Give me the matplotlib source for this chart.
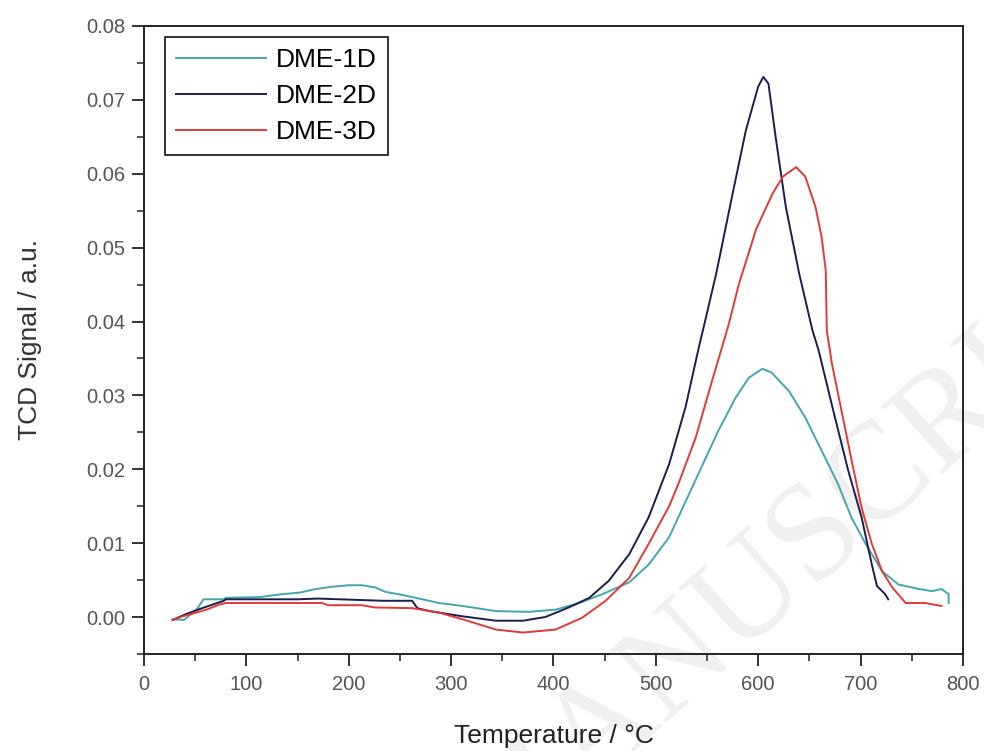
import numpy as np
import matplotlib
matplotlib.use("Agg")
import matplotlib.pyplot as plt
from matplotlib.ticker import MultipleLocator, FormatStrFormatter

plt.rcParams['font.family'] = ['Liberation Sans', 'DejaVu Sans']

# --- DATA ---
temp_1d = [28, 39, 52, 58, 78, 80, 113, 135, 152, 168, 184, 200, 213, 226, 236, 252,
           262, 272, 288, 311, 344, 376, 402, 425, 448, 474, 493, 513, 522, 542, 561,
           578, 591, 604, 613, 630, 646, 662, 678, 691, 705, 721, 737, 757, 770, 779,
           786, 786]
tcd_1d = [-0.0003, -0.0004, 0.0011, 0.0024, 0.0024, 0.0026, 0.0027, 0.0031, 0.0033,
          0.0038, 0.0041, 0.0043, 0.0043, 0.0040, 0.0034, 0.0030, 0.0027, 0.0024,
          0.0019, 0.0015, 0.0008, 0.0007, 0.0010, 0.0019, 0.0031, 0.0047, 0.0071,
          0.0108, 0.0135, 0.0195, 0.0252, 0.0297, 0.0324, 0.0336, 0.0331, 0.0306,
          0.0270, 0.0225, 0.0180, 0.0135, 0.0099, 0.0062, 0.0044, 0.0038, 0.0035,
          0.0038, 0.0031, 0.0019]

temp_2d = [28, 41, 61, 78, 80, 150, 170, 233, 262, 267, 279, 311, 344, 370, 392, 415,
           435, 454, 474, 493, 513, 529, 542, 546, 559, 575, 588, 600, 605, 610, 617,
           627, 640, 653, 659, 675, 688, 701, 711, 716, 724, 727]
tcd_2d = [-0.0004, 0.0004, 0.0014, 0.0022, 0.0024, 0.0024, 0.0025, 0.0022, 0.0022,
          0.0012, 0.0008, 0.0001, -0.0005, -0.0005, 0.0000, 0.0013, 0.0026, 0.0049,
          0.0085, 0.0135, 0.0207, 0.0284, 0.0365, 0.0388, 0.0465, 0.0573, 0.0659,
          0.0718, 0.0731, 0.0722, 0.0650, 0.0555, 0.0465, 0.0388, 0.0361, 0.0270,
          0.0198, 0.0135, 0.0071, 0.0042, 0.0031, 0.0024]

temp_3d = [28, 38, 61, 74, 80, 174, 180, 213, 225, 262, 288, 311, 344, 370, 402, 428,
           451, 474, 493, 513, 522, 539, 555, 571, 581, 598, 614, 624, 637, 646, 656,
           662, 666, 667, 672, 682, 692, 701, 711, 721, 731, 744, 763, 779]
tcd_3d = [-0.0004, 0.0001, 0.0010, 0.0017, 0.0019, 0.0019, 0.0016, 0.0016, 0.0013,
          0.0012, 0.0006, -0.0003, -0.0017, -0.0021, -0.0017, -0.0001, 0.0022, 0.0053,
          0.0099, 0.0150, 0.0180, 0.0243, 0.0320, 0.0395, 0.0450, 0.0525, 0.0573,
          0.0596, 0.0609, 0.0596, 0.0555, 0.0514, 0.0469, 0.0388, 0.0343, 0.0275,
          0.0207, 0.0148, 0.0099, 0.0062, 0.0040, 0.0019, 0.0019, 0.0015]

labels = ['DME-1D', 'DME-2D', 'DME-3D']
colors = ['#45a5ad', '#1c1d4f', '#e03a3a']

# --- PLOT ---
fig = plt.figure(figsize=(9.84, 7.51), dpi=100)
ax = fig.add_axes([0.1463, 0.1292, 0.8323, 0.8362])

# faint "accepted manuscript" watermark behind everything
fig.text(0.82, 0.27, 'MANUSCRIPT', family='Liberation Serif', fontsize=100,
         color='#f0f0f0', rotation=42, ha='center', va='center', zorder=-1)
ax.patch.set_alpha(0)

ax.plot(temp_1d, tcd_1d, color=colors[0], lw=1.4, label=labels[0])
ax.plot(temp_2d, tcd_2d, color=colors[1], lw=1.4, label=labels[1])
ax.plot(temp_3d, tcd_3d, color=colors[2], lw=1.4, label=labels[2])

ax.set_xlim(0, 800)
ax.set_ylim(-0.005, 0.08)
ax.xaxis.set_major_locator(MultipleLocator(100))
ax.xaxis.set_minor_locator(MultipleLocator(50))
ax.yaxis.set_major_locator(MultipleLocator(0.01))
ax.yaxis.set_minor_locator(MultipleLocator(0.005))
ax.yaxis.set_major_formatter(FormatStrFormatter('%.2f'))

ax.tick_params(which='major', direction='out', length=8.5, width=1.3, labelsize=14.5,
               colors='#222222', labelcolor='#555555')
ax.tick_params(axis='x', which='major', pad=7)
ax.tick_params(axis='y', which='major', pad=5)
ax.tick_params(which='minor', direction='out', length=5, width=1.1, colors='#222222')
for s in ax.spines.values():
    s.set_linewidth(1.4)
    s.set_color('#222222')

ax.set_xlabel('Temperature / °C', fontsize=19, color='#222222', labelpad=21)
ax.set_ylabel('TCD Signal / a.u.', fontsize=19, color='#333333', labelpad=32)

leg = ax.legend(loc='upper left', bbox_to_anchor=(0.0256, 0.982), borderaxespad=0,
                fontsize=19, handlelength=3.4, labelspacing=0.45, fancybox=False,
                framealpha=1, edgecolor='#222222', borderpad=0.42, handletextpad=0.4)
leg.get_frame().set_linewidth(1.3)

fig.savefig('out.png', dpi=100)
